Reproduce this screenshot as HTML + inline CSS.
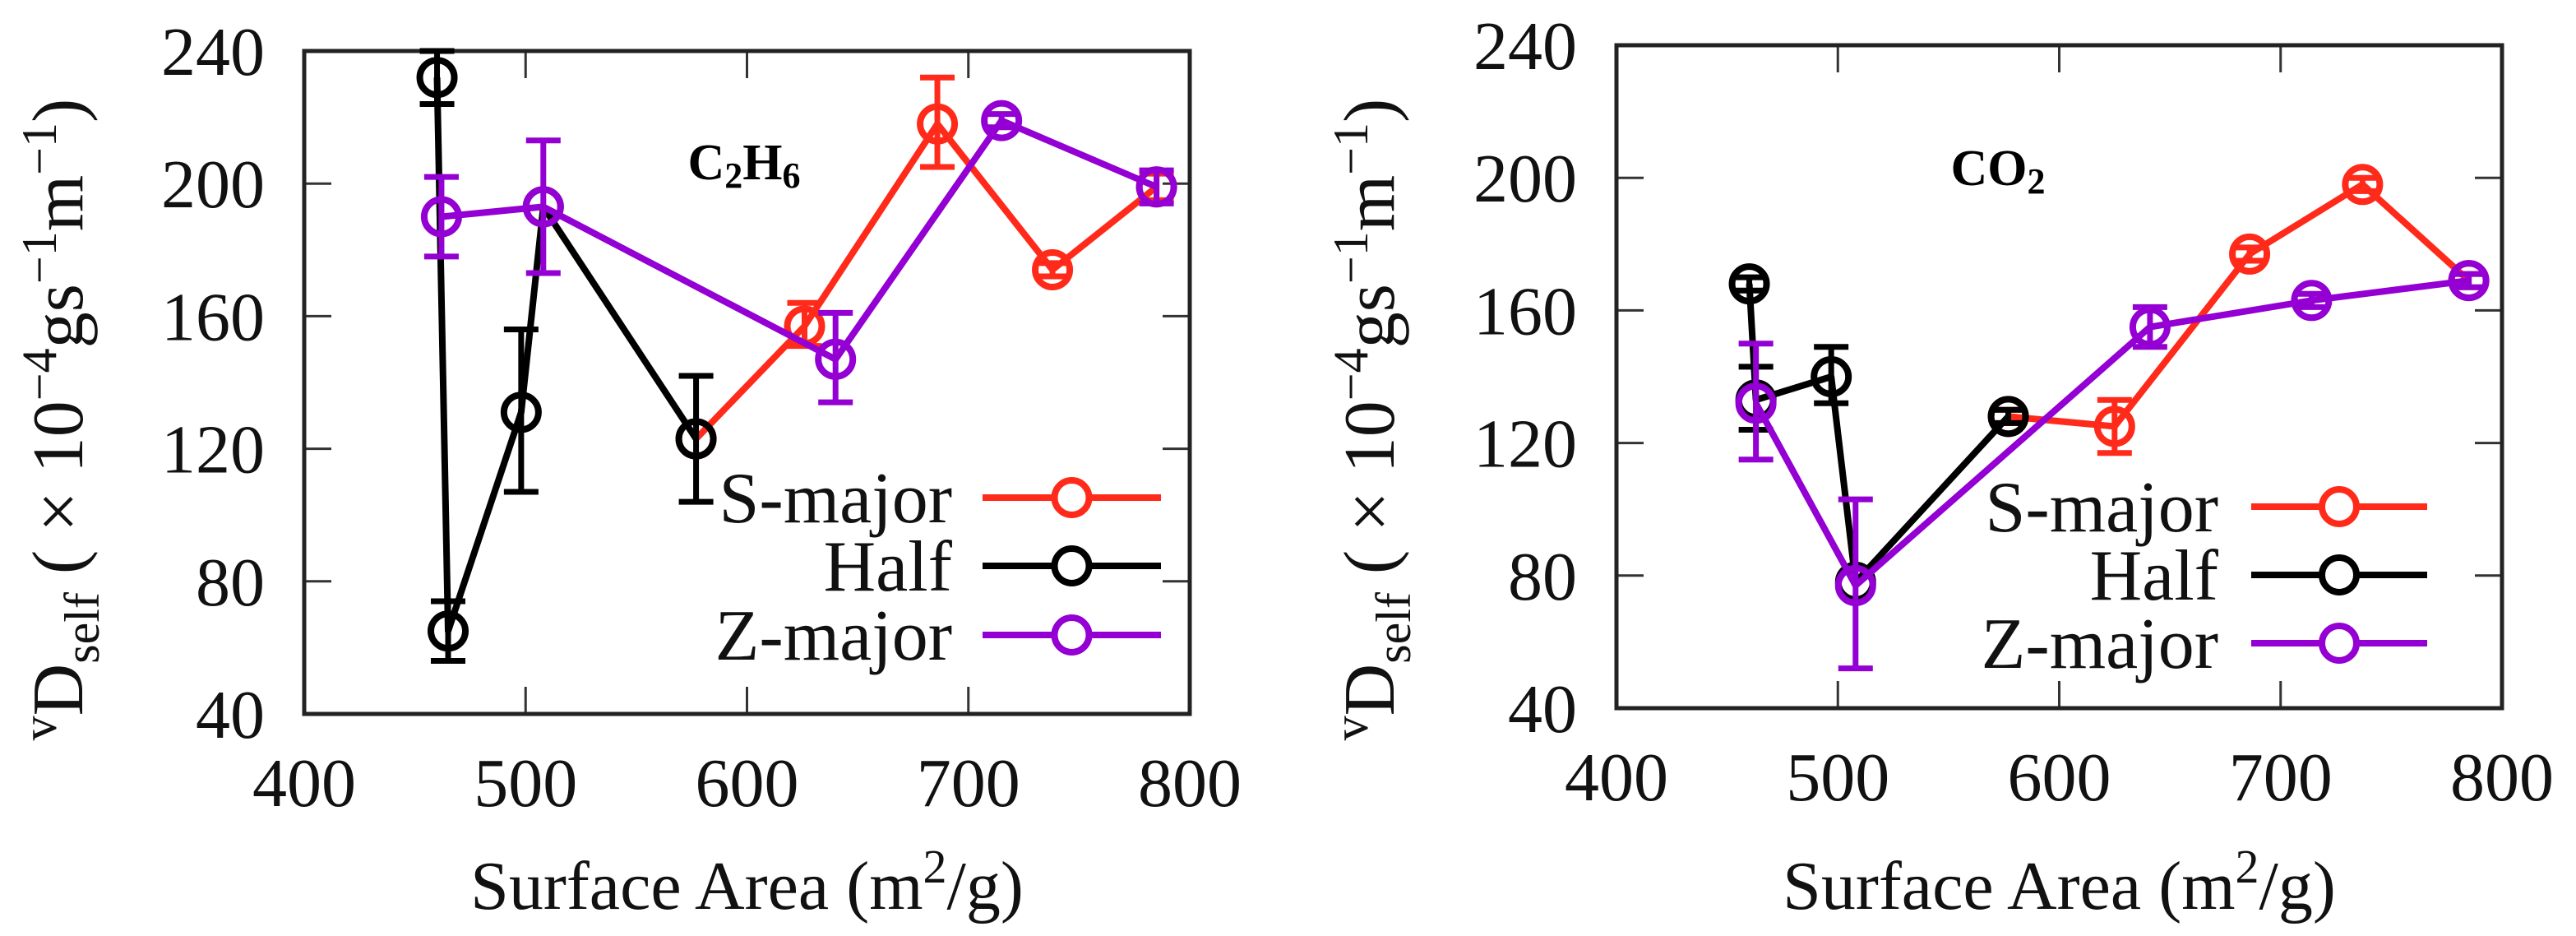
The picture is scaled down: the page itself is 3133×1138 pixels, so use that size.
<!DOCTYPE html>
<html><head><meta charset="utf-8"><style>
html,body{margin:0;padding:0;background:#fff;}
svg{display:block;font-family:"Liberation Serif",serif;}
</style></head><body>
<svg id="chart" width="3133" height="1138" viewBox="0 0 3133 1138" xmlns="http://www.w3.org/2000/svg"></svg>
<script>
const xTicks=[400,500,600,700,800];
const yTicks=[40,80,120,160,200,240];
const seriesNames=["S-major","Half","Z-major"];
const seriesColors=["#ff2a1a","#000000","#9400d3"];
// C2H6 panel
const c2Half_x=[460,465,498,508,577];
const c2Half_y=[232,65,131,193,123];
const c2Half_lo=[224,56,107,193,104];
const c2Half_hi=[240,74,156,193,142];
const c2S_x=[577,626,686,738,785];
const c2S_y=[123,157,218,174,199];
const c2S_lo=[123,151,205,172,195];
const c2S_hi=[123,164,232,176,203];
const c2Z_x=[462,508,640,715,785];
const c2Z_y=[190,193,147,219,199];
const c2Z_lo=[178,173,134,217,194];
const c2Z_hi=[202,213,161,221,204];
// CO2 panel
const coHalf_x=[460,463,497,508,577];
const coHalf_y=[168,133,140,78,128];
const coHalf_lo=[166,124,132,78,126];
const coHalf_hi=[170,143,149,78,130];
const coS_x=[577,625,686,737,785];
const coS_y=[128,125,177,198,169];
const coS_lo=[126,117,175,196,167];
const coS_hi=[130,133,179,200,171];
const coZ_x=[463,508,641,714,785];
const coZ_y=[132,77,155,163,169];
const coZ_lo=[115,52,149,161,167];
const coZ_hi=[150,103,161,165,171];

const svg=document.getElementById('chart');
const NS='http://www.w3.org/2000/svg';
function mk(tag,attrs,parent){const e=document.createElementNS(NS,tag);for(const k in attrs)e.setAttribute(k,attrs[k]);(parent||svg).appendChild(e);return e;}

function panel(cfg){
  const g=mk('g',{});
  
  
  const L=cfg.L,R=cfg.R,T=cfg.T,B=cfg.B;
  const sx=v=>L+(v-400)/400*(R-L);
  const sy=v=>B-(v-40)/200*(B-T);
  xTicks.forEach(t=>{
    const x=sx(t);
    if(t>400&&t<800){mk('line',{x1:x,y1:B,x2:x,y2:B-33,stroke:'#333','stroke-width':3},g);mk('line',{x1:x,y1:T,x2:x,y2:T+33,stroke:'#333','stroke-width':3},g);}
    const tx=mk('text',{x:x,y:B+112,'text-anchor':'middle','font-size':84,fill:'#111'},g);
    tx.textContent=t;
    
    
  });
  yTicks.forEach(t=>{
    const y=sy(t);
    if(t>40&&t<240){mk('line',{x1:L,y1:y,x2:L+33,y2:y,stroke:'#333','stroke-width':3},g);mk('line',{x1:R,y1:y,x2:R-33,y2:y,stroke:'#333','stroke-width':3},g);}
    const tx=mk('text',{x:L-48,y:y+29,'text-anchor':'end','font-size':84,fill:'#111'},g);
    tx.textContent=t;
    
    
  });
  const frame=mk('rect',{x:L,y:T,width:R-L,height:B-T,fill:'none',stroke:'#222','stroke-width':5},g);
  
  
  cfg.series.forEach((s,i)=>{
    const col=seriesColors[s.c];
    const sg=mk('g',{},g);
    
    
    mk('polyline',{points:s.x.map((v,j)=>sx(v)+','+sy(s.y[j])).join(' '),fill:'none',stroke:col,'stroke-width':8,'stroke-linejoin':'round'},sg);
    s.x.forEach((v,j)=>{
      const x=sx(v);
      if(s.hi[j]-s.lo[j]>0.5){
        mk('line',{x1:x,y1:sy(s.lo[j]),x2:x,y2:sy(s.hi[j]),stroke:col,'stroke-width':7},sg);
        mk('line',{x1:x-21,y1:sy(s.lo[j]),x2:x+21,y2:sy(s.lo[j]),stroke:col,'stroke-width':7},sg);
        mk('line',{x1:x-21,y1:sy(s.hi[j]),x2:x+21,y2:sy(s.hi[j]),stroke:col,'stroke-width':7},sg);
      }
      const c=mk('circle',{cx:x,cy:sy(s.y[j]),r:21,fill:'none',stroke:col,'stroke-width':8},sg);
      
      
    });
  });
  const lb=mk('text',{x:cfg.labX,y:cfg.labY,'text-anchor':'middle','font-size':62,'font-weight':'bold',fill:'#000'},g);
  lb.innerHTML=cfg.label;
  
  
  [0,1,2].forEach((c,k)=>{
    const y=cfg.legY[k];
    const lg=mk('g',{},g);
    
    
    const t=mk('text',{x:cfg.legTX,y:y+30,'text-anchor':'end','font-size':88,fill:'#111'},lg);
    t.textContent=seriesNames[c];
    mk('line',{x1:cfg.legL1,y1:y,x2:cfg.legL2,y2:y,stroke:seriesColors[c],'stroke-width':8},lg);
    mk('circle',{cx:(cfg.legL1+cfg.legL2)/2,cy:y,r:21,fill:'#fff',stroke:seriesColors[c],'stroke-width':8},lg);
  });
  const xt=mk('text',{x:(L+R)/2,y:1105,'text-anchor':'middle','font-size':84,fill:'#111'},g);
  xt.innerHTML='Surface Area (m<tspan dy="-32" font-size="58">2</tspan><tspan dy="32">/g)</tspan>';
  
  
  const yt=mk('text',{x:0,y:0,'text-anchor':'middle','font-size':88,fill:'#111',transform:'translate('+cfg.ytX+',510) rotate(-90)'},g);
  yt.innerHTML='<tspan font-size="60" dy="-32">v</tspan><tspan dy="32">D</tspan><tspan font-size="60" dy="20">self</tspan><tspan dy="-20"> ( × 10</tspan><tspan font-size="60" dy="-32">−4</tspan><tspan dy="32">gs</tspan><tspan font-size="60" dy="-32">−1</tspan><tspan dy="32">m</tspan><tspan font-size="60" dy="-32">−1</tspan><tspan dy="32">)</tspan>';
  
  
}

panel({name:'c2h6-panel',L:370,R:1447,T:62,B:868,labX:905,labY:218,label:'C<tspan font-size="44" dy="10">2</tspan><tspan dy="-10">H</tspan><tspan font-size="44" dy="10">6</tspan>',
  legY:[605,688,772],legTX:1158,legL1:1195,legL2:1412,ytX:100,
  series:[{c:0,x:c2S_x,y:c2S_y,lo:c2S_lo,hi:c2S_hi},{c:1,x:c2Half_x,y:c2Half_y,lo:c2Half_lo,hi:c2Half_hi},{c:2,x:c2Z_x,y:c2Z_y,lo:c2Z_lo,hi:c2Z_hi}]});
panel({name:'co2-panel',L:1966,R:3043,T:55,B:861,labX:2430,labY:225,label:'CO<tspan font-size="44" dy="10">2</tspan>',
  legY:[616,699,782],legTX:2698,legL1:2738,legL2:2952,ytX:1695,
  series:[{c:0,x:coS_x,y:coS_y,lo:coS_lo,hi:coS_hi},{c:1,x:coHalf_x,y:coHalf_y,lo:coHalf_lo,hi:coHalf_hi},{c:2,x:coZ_x,y:coZ_y,lo:coZ_lo,hi:coZ_hi}]});
</script>
</body></html>
